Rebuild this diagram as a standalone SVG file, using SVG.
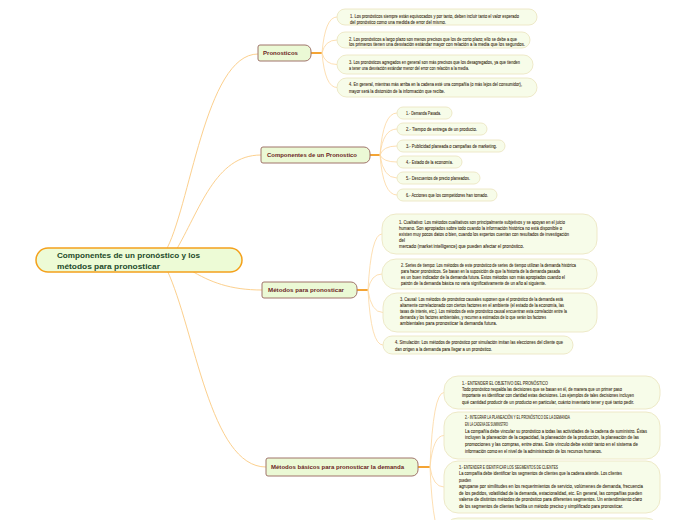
<svg xmlns="http://www.w3.org/2000/svg" width="697" height="520" viewBox="0 0 697 520">
<style>
.bg{fill:#ffffff}
.c1{fill:none;stroke:#fcd08e;stroke-width:1}
.c2{fill:none;stroke:#fcd79f;stroke-width:0.8}
.stub{fill:none;stroke:#f39a1e;stroke-width:1.8}
.root{fill:#edfbd6;stroke:#f4a11c;stroke-width:1.5}
.rt{font-family:"Liberation Sans",Arial,sans-serif;font-weight:bold;font-size:8px;fill:#1d4a2a}
.br{fill:#ebf9d5;stroke:#a0746a;stroke-width:1}
.bt{font-family:"Liberation Sans",Arial,sans-serif;font-weight:bold;font-size:6px;fill:#6b1f1f}
.ch{fill:#f7fce9;stroke:#ece7c3;stroke-width:0.9}
.t{font-family:"Liberation Sans",Arial,sans-serif;font-size:5px;fill:#3a2c14;stroke:#3a2c14;stroke-width:0.08}
</style>
<rect class="bg" x="0" y="0" width="697" height="520"/>
<g id="connectors">
  <path class="c1" d="M165 252 C190 210 205 54 258 54"/>
  <path class="c1" d="M175 252 C200 210 215 155 261 155"/>
  <path class="c1" d="M190 270 C210 282 230 290 262 290"/>
  <path class="c1" d="M167 270 C195 330 210 467 266 467"/>
  <path class="stub" d="M311 53 H322"/>
  <path class="c2" d="M322 53 Q325 17 337 17"/>
  <path class="c2" d="M322 53 Q325 40 337 40"/>
  <path class="c2" d="M322 53 Q325 64.5 337 64.5"/>
  <path class="c2" d="M322 53 Q325 87.5 337 87.5"/>
  <path class="stub" d="M370 155 H380"/>
  <path class="c2" d="M380 155 Q383 113 397 113"/>
  <path class="c2" d="M380 155 Q383 129 397 129"/>
  <path class="c2" d="M380 155 Q383 146 397 146"/>
  <path class="c2" d="M380 155 Q383 162 397 162"/>
  <path class="c2" d="M380 155 Q383 178 397 178"/>
  <path class="c2" d="M380 155 Q383 195 397 195"/>
  <path class="stub" d="M357 290 H368"/>
  <path class="c2" d="M368 290 Q371 234 382 234"/>
  <path class="c2" d="M368 290 Q371 274 382 274"/>
  <path class="c2" d="M368 290 Q371 312.5 383 312.5"/>
  <path class="c2" d="M368 290 Q371 345 383 345"/>
  <path class="stub" d="M418 467 H430"/>
  <path class="c2" d="M430 467 Q433 392.5 444 392.5"/>
  <path class="c2" d="M430 467 Q433 435.5 444 435.5"/>
  <path class="c2" d="M430 467 Q433 487 444 487"/>
  <path class="c2" d="M430 467 Q433 538 444 538"/>
</g>
<g id="root">
  <rect class="root" x="36" y="248" width="206" height="24" rx="12"/>
  <text class="rt" x="57" y="258" textLength="143" lengthAdjust="spacingAndGlyphs">Componentes de un pronóstico y los</text>
  <text class="rt" x="57" y="268.5" textLength="103" lengthAdjust="spacingAndGlyphs">métodos para pronosticar</text>
</g>
<g id="pronosticos">
  <path class="br" d="M260 45 H305 A6 6 0 0 1 311 51 V55 A6 6 0 0 1 305 61 H260 A2 2 0 0 1 258 59 V47 A2 2 0 0 1 260 45 Z"/>
  <text class="bt" x="263" y="55.2" textLength="35" lengthAdjust="spacingAndGlyphs">Pronosticos</text>
</g>
<g id="p1">
  <rect class="ch" x="337" y="9" width="200" height="16" rx="8"/>
  <text class="t" x="350" y="17.7" textLength="169" lengthAdjust="spacingAndGlyphs">1. Los pronósticos siempre están equivocados y por tanto, deben incluir tanto el valor esperado</text>
  <text class="t" x="350" y="23.5" textLength="96" lengthAdjust="spacingAndGlyphs">del pronóstico como una medida de error del mismo.</text>
</g>
<g id="p2">
  <rect class="ch" x="337" y="32" width="193" height="16" rx="8"/>
  <text class="t" x="349" y="40.6" textLength="168" lengthAdjust="spacingAndGlyphs">2. Los pronósticos a largo plazo son menos precisos que los de corto plazo; ello se debe a que</text>
  <text class="t" x="349" y="46.4" textLength="176" lengthAdjust="spacingAndGlyphs">los primeros tienen una desviación estándar mayor con relación a la media que los segundos.</text>
</g>
<g id="p3">
  <rect class="ch" x="337" y="55" width="196" height="19" rx="9.5"/>
  <text class="t" x="349" y="63.8" textLength="171" lengthAdjust="spacingAndGlyphs">3. Los pronósticos agregados en general son más precisos que los desagregados, ya que tienden</text>
  <text class="t" x="349" y="69.8" textLength="120" lengthAdjust="spacingAndGlyphs">a tener una desviación estándar menor del error con relación a la media.</text>
</g>
<g id="p4">
  <rect class="ch" x="337" y="78" width="200" height="19" rx="9.5"/>
  <text class="t" x="349" y="86.3" textLength="173" lengthAdjust="spacingAndGlyphs">4. En general, mientras más arriba en la cadena esté una compañía (o más lejos del consumidor),</text>
  <text class="t" x="349" y="93" textLength="96" lengthAdjust="spacingAndGlyphs">mayor será la distorsión de la información que recibe.</text>
</g>
<g id="componentes">
  <path class="br" d="M263 147 H364 A6 6 0 0 1 370 153 V157 A6 6 0 0 1 364 163 H263 A2 2 0 0 1 261 161 V149 A2 2 0 0 1 263 147 Z"/>
  <text class="bt" x="267" y="157.2" textLength="90" lengthAdjust="spacingAndGlyphs">Componentes de un Pronostico</text>
</g>
<g id="c1"><rect class="ch" x="397" y="107" width="55" height="12" rx="6"/><text class="t" x="406" y="114.7" textLength="35" lengthAdjust="spacingAndGlyphs">1.- Demanda Pasada.</text></g>
<g id="c2"><rect class="ch" x="397" y="123" width="90" height="12" rx="6"/><text class="t" x="406" y="130.7" textLength="71" lengthAdjust="spacingAndGlyphs">2.- Tiempo de entrega de un producto.</text></g>
<g id="c3"><rect class="ch" x="397" y="140" width="108" height="12" rx="6"/><text class="t" x="406" y="147.7" textLength="91" lengthAdjust="spacingAndGlyphs">3.- Publicidad planeada o campañas de marketing.</text></g>
<g id="c4"><rect class="ch" x="397" y="156" width="65" height="12" rx="6"/><text class="t" x="406" y="163.7" textLength="47" lengthAdjust="spacingAndGlyphs">4.- Estado de la economía.</text></g>
<g id="c5"><rect class="ch" x="397" y="172" width="83" height="12" rx="6"/><text class="t" x="406" y="179.7" textLength="64" lengthAdjust="spacingAndGlyphs">5.- Descuentos de precio planeados.</text></g>
<g id="c6"><rect class="ch" x="397" y="189" width="100" height="12" rx="6"/><text class="t" x="406" y="196.7" textLength="82" lengthAdjust="spacingAndGlyphs">6.- Acciones que los competidores han tomado.</text></g>
<g id="metodos">
  <path class="br" d="M264 282 H351 A6 6 0 0 1 357 288 V292 A6 6 0 0 1 351 298 H264 A2 2 0 0 1 262 296 V284 A2 2 0 0 1 264 282 Z"/>
  <text class="bt" x="268" y="292.2" textLength="76" lengthAdjust="spacingAndGlyphs">Métodos para pronosticar</text>
</g>
<g id="m1">
  <rect class="ch" x="382" y="214" width="215" height="40" rx="14"/>
  <text class="t" x="399" y="223.5" textLength="166" lengthAdjust="spacingAndGlyphs">1. Cualitativo: Los métodos cualitativos son principalmente subjetivos y se apoyan en el juicio</text>
  <text class="t" x="399" y="229.5" textLength="163" lengthAdjust="spacingAndGlyphs">humano. Son apropiados sobre todo cuando la información histórica no está disponible o</text>
  <text class="t" x="399" y="235.5" textLength="170" lengthAdjust="spacingAndGlyphs">existen muy pocos datos o bien, cuando los expertos cuentan con resultados de investigación</text>
  <text class="t" x="399" y="241.5" textLength="6" lengthAdjust="spacingAndGlyphs">del</text>
  <text class="t" x="399" y="247.5" textLength="125" lengthAdjust="spacingAndGlyphs">mercado (market intelligence) que pueden afectar el pronóstico.</text>
</g>
<g id="m2">
  <rect class="ch" x="382" y="259" width="215" height="30" rx="14"/>
  <text class="t" x="401" y="266.5" textLength="175" lengthAdjust="spacingAndGlyphs">2. Series de tiempo: Los métodos de este pronóstico de series de tiempo utilizan la demanda histórica</text>
  <text class="t" x="401" y="272.6" textLength="159" lengthAdjust="spacingAndGlyphs">para hacer pronósticos. Se basan en la suposición de que la historia de la demanda pasada</text>
  <text class="t" x="401" y="278.7" textLength="164" lengthAdjust="spacingAndGlyphs">es un buen indicador de la demanda futura. Estos métodos son más apropiados cuando el</text>
  <text class="t" x="401" y="285" textLength="145" lengthAdjust="spacingAndGlyphs">patrón de la demanda básica no varía significativamente de un año al siguiente.</text>
</g>
<g id="m3">
  <rect class="ch" x="383" y="293" width="214" height="39" rx="14"/>
  <text class="t" x="400" y="300.5" textLength="163" lengthAdjust="spacingAndGlyphs">3. Causal: Los métodos de pronóstico causales suponen que el pronóstico de la demanda está</text>
  <text class="t" x="400" y="306.6" textLength="164" lengthAdjust="spacingAndGlyphs">altamente correlacionado con ciertos factores en el ambiente (el estado de la economía, las</text>
  <text class="t" x="400" y="312.7" textLength="167" lengthAdjust="spacingAndGlyphs">tasas de interés, etc.). Los métodos de este pronóstico causal encuentran esta correlación entre la</text>
  <text class="t" x="400" y="318.8" textLength="146" lengthAdjust="spacingAndGlyphs">demanda y los factores ambientales, y recurren a estimados de lo que serán los factores</text>
  <text class="t" x="400" y="324.9" textLength="97" lengthAdjust="spacingAndGlyphs">ambientales para pronosticar la demanda futura.</text>
</g>
<g id="m4">
  <rect class="ch" x="383" y="336" width="190" height="18" rx="9"/>
  <text class="t" x="395" y="343.7" textLength="168" lengthAdjust="spacingAndGlyphs">4. Simulación: Los métodos de pronóstico por simulación imitan las elecciones del cliente que</text>
  <text class="t" x="395" y="350.5" textLength="97" lengthAdjust="spacingAndGlyphs">dan origen a la demanda para llegar a un pronóstico.</text>
</g>
<g id="basicos">
  <path class="br" d="M268 458 H412 A6 6 0 0 1 418 464 V470 A6 6 0 0 1 412 476 H268 A2 2 0 0 1 266 474 V460 A2 2 0 0 1 268 458 Z"/>
  <text class="bt" x="271" y="469.2" textLength="133" lengthAdjust="spacingAndGlyphs">Métodos básicos para pronosticar la demanda</text>
</g>
<g id="b1">
  <rect class="ch" x="444" y="376" width="216" height="33" rx="14"/>
  <text class="t" x="462" y="384.5" textLength="86" lengthAdjust="spacingAndGlyphs">1.- ENTENDER EL OBJETIVO DEL PRONÓSTICO</text>
  <text class="t" x="462" y="390.8" textLength="160" lengthAdjust="spacingAndGlyphs">Todo pronóstico respalda las decisiones que se basan en él, de manera que un primer paso</text>
  <text class="t" x="462" y="397.1" textLength="172" lengthAdjust="spacingAndGlyphs">importante es identificar con claridad estas decisiones. Los ejemplos de tales decisiones incluyen</text>
  <text class="t" x="462" y="403.5" textLength="172" lengthAdjust="spacingAndGlyphs">qué cantidad producir de un producto en particular, cuánto inventario tener y qué tanto pedir.</text>
</g>
<g id="b2">
  <rect class="ch" x="444" y="412" width="216" height="47" rx="14"/>
  <text class="t" x="465" y="418.7" textLength="105" lengthAdjust="spacingAndGlyphs">2.- INTEGRAR LA PLANEACIÓN Y EL PRONÓSTICO DE LA DEMANDA</text>
  <text class="t" x="465" y="425.6" textLength="43" lengthAdjust="spacingAndGlyphs">EN LA CADENA DE SUMINISTRO</text>
  <text class="t" x="465" y="432.5" textLength="182" lengthAdjust="spacingAndGlyphs">La compañía debe vincular su pronóstico a todas las actividades de la cadena de suministro. Éstas</text>
  <text class="t" x="465" y="439.4" textLength="174" lengthAdjust="spacingAndGlyphs">incluyen la planeación de la capacidad, la planeación de la producción, la planeación de las</text>
  <text class="t" x="465" y="446.3" textLength="173" lengthAdjust="spacingAndGlyphs">promociones y las compras, entre otras. Este vínculo debe existir tanto en el sistema de</text>
  <text class="t" x="465" y="453.2" textLength="137" lengthAdjust="spacingAndGlyphs">información como en el nivel de la administración de los recursos humanos.</text>
</g>
<g id="b3">
  <rect class="ch" x="444" y="461" width="216" height="52" rx="14"/>
  <text class="t" x="459" y="468.5" textLength="99" lengthAdjust="spacingAndGlyphs">3.- ENTENDER E IDENTIFICAR LOS SEGMENTOS DE CLIENTES</text>
  <text class="t" x="459" y="475" textLength="163" lengthAdjust="spacingAndGlyphs">La compañía debe identificar los segmentos de clientes que la cadena atiende. Los clientes</text>
  <text class="t" x="459" y="481.5" textLength="12" lengthAdjust="spacingAndGlyphs">pueden</text>
  <text class="t" x="459" y="488" textLength="184" lengthAdjust="spacingAndGlyphs">agruparse por similitudes en los requerimientos de servicio, volúmenes de demanda, frecuencia</text>
  <text class="t" x="459" y="494.5" textLength="183" lengthAdjust="spacingAndGlyphs">de los pedidos, volatilidad de la demanda, estacionalidad, etc. En general, las compañías pueden</text>
  <text class="t" x="459" y="501" textLength="183" lengthAdjust="spacingAndGlyphs">valerse de distintos métodos de pronóstico para diferentes segmentos. Un entendimiento claro</text>
  <text class="t" x="459" y="507.5" textLength="164" lengthAdjust="spacingAndGlyphs">de los segmentos de clientes facilita un método preciso y simplificado para pronosticar.</text>
</g>
<g id="b4">
  <rect class="ch" x="444" y="518" width="216" height="40" rx="14"/>
</g>
</svg>
